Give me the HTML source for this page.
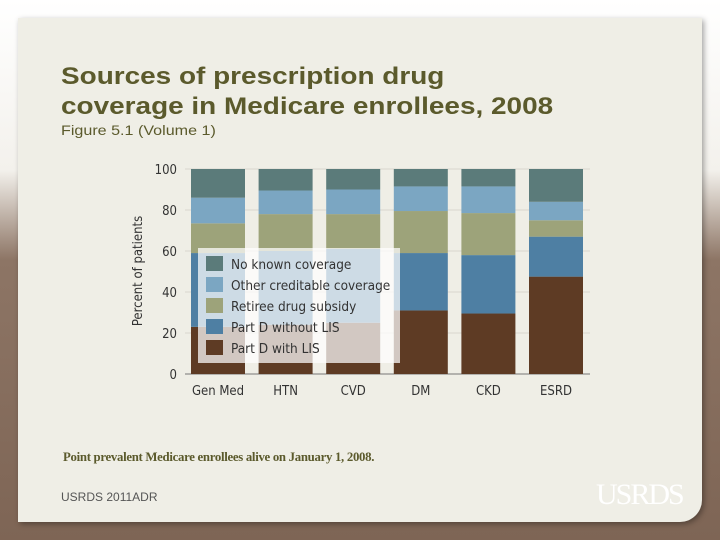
<!DOCTYPE html>
<html><head><meta charset="utf-8"><style>
body{margin:0;width:720px;height:540px;overflow:hidden;position:relative;font-family:"Liberation Sans",sans-serif;
background:linear-gradient(180deg,#fff 0px,#f3f1ec 170px,#8d7565 260px,#7e6555 540px);}
#panel{position:absolute;left:18px;top:18px;width:684px;height:504px;background:#efeee6;border-radius:0 0 22px 0;box-shadow:2px 2px 6px rgba(0,0,0,.35);}
.t{position:absolute;color:#5b5a2c;transform-origin:0 0;}
</style></head><body>
<div id="panel"></div>
<div class="t" style="left:61px;top:62px;font-size:24.5px;font-weight:bold;line-height:30px;transform:scaleX(1.14);">Sources of prescription drug<br>coverage in Medicare enrollees, 2008</div>
<div class="t" style="left:61px;top:122px;font-size:14px;transform:scaleX(1.15);">Figure 5.1 (Volume 1)</div>
<div class="t" style="left:63px;top:450px;font-size:12.8px;font-family:'Liberation Serif',serif;font-weight:bold;letter-spacing:-0.3px;">Point prevalent Medicare enrollees alive on January 1, 2008.</div>
<div class="t" style="left:61px;top:490px;font-size:12px;color:#555;">USRDS 2011ADR</div>
<div style="position:absolute;left:596px;top:478px;font-family:'Liberation Serif',serif;font-size:30px;color:#fff;letter-spacing:-2px;">USRDS</div>
<svg id="chart" width="720" height="540" style="position:absolute;left:0;top:0"></svg>
<script>
const categories=["Gen Med","HTN","CVD","DM","CKD","ESRD"];
const partDWithLIS=[23,24,25,31,29.5,47.5];
const partDWithoutLIS=[36,36,36,28,28.5,19.5];
const retireeSubsidy=[14.5,18,17,20.5,20.5,8];
const otherCoverage=[12.5,11.5,12,12,13,9];
const noCoverage=[14,10.5,10,8.5,8.5,16];
const yTicks=[0,20,40,60,80,100];
const seriesNames=["No known coverage","Other creditable coverage","Retiree drug subsidy","Part D without LIS","Part D with LIS"];
const colors=["#5b7b7a","#7ba6c2","#9da37a","#4e7fa3","#5e3b24"];
const NS="http://www.w3.org/2000/svg",svg=document.getElementById('chart');
const y0=374,y1=169,x0=191,pitch=67.6,bw=54;
const Y=v=>y0-(v/100)*(y0-y1);
const X=i=>x0+i*pitch;
function mk(t,a,p){const e=document.createElementNS(NS,t);for(const k in a)e.setAttribute(k,a[k]);(p||svg).appendChild(e);return e;}
yTicks.forEach(v=>{
 const l=mk('line',{x1:185,x2:590,y1:Y(v),y2:Y(v),stroke:v?'#d8d7cf':'#777','stroke-width':1});
 
 const t=mk('text',{x:177,y:Y(v)+5,'text-anchor':'end','font-size':13,fill:'#333','font-family':'DejaVu Sans Condensed, DejaVu Sans, sans-serif'});t.textContent=v;
 
});
const yt=mk('text',{transform:'translate(142,271) rotate(-90)','text-anchor':'middle','font-size':13,fill:'#333','font-family':'DejaVu Sans Condensed, DejaVu Sans, sans-serif'});yt.textContent='Percent of patients';

const stack=[partDWithLIS,partDWithoutLIS,retireeSubsidy,otherCoverage,noCoverage];
const stackColors=[colors[4],colors[3],colors[2],colors[1],colors[0]];
categories.forEach((c,i)=>{
 let cum=0;
 stack.forEach((s,k)=>{
  const top=Math.min(100,cum+s[i]);
  const r=mk('rect',{x:X(i),y:Y(top),width:bw,height:Y(cum)-Y(top),fill:stackColors[k]});
  
  
  cum=top;
 });
 const t=mk('text',{x:X(i)+bw/2,y:395,'text-anchor':'middle','font-size':13,fill:'#333','font-family':'DejaVu Sans Condensed, DejaVu Sans, sans-serif'});t.textContent=c;
 
});
const lg=mk('g',{});
const lb=mk('rect',{x:198,y:248,width:202,height:115,fill:'#fff','fill-opacity':0.72},lg);

seriesNames.forEach((n,k)=>{
 const yy=256+k*21;
 const s=mk('rect',{x:206,y:yy,width:17,height:15,fill:colors[k]},lg);
 
 const t=mk('text',{x:231,y:yy+13,'font-size':13.5,fill:'#333','font-family':'DejaVu Sans Condensed, DejaVu Sans, sans-serif'},lg);t.textContent=n;
 
});
</script>
</body></html>
